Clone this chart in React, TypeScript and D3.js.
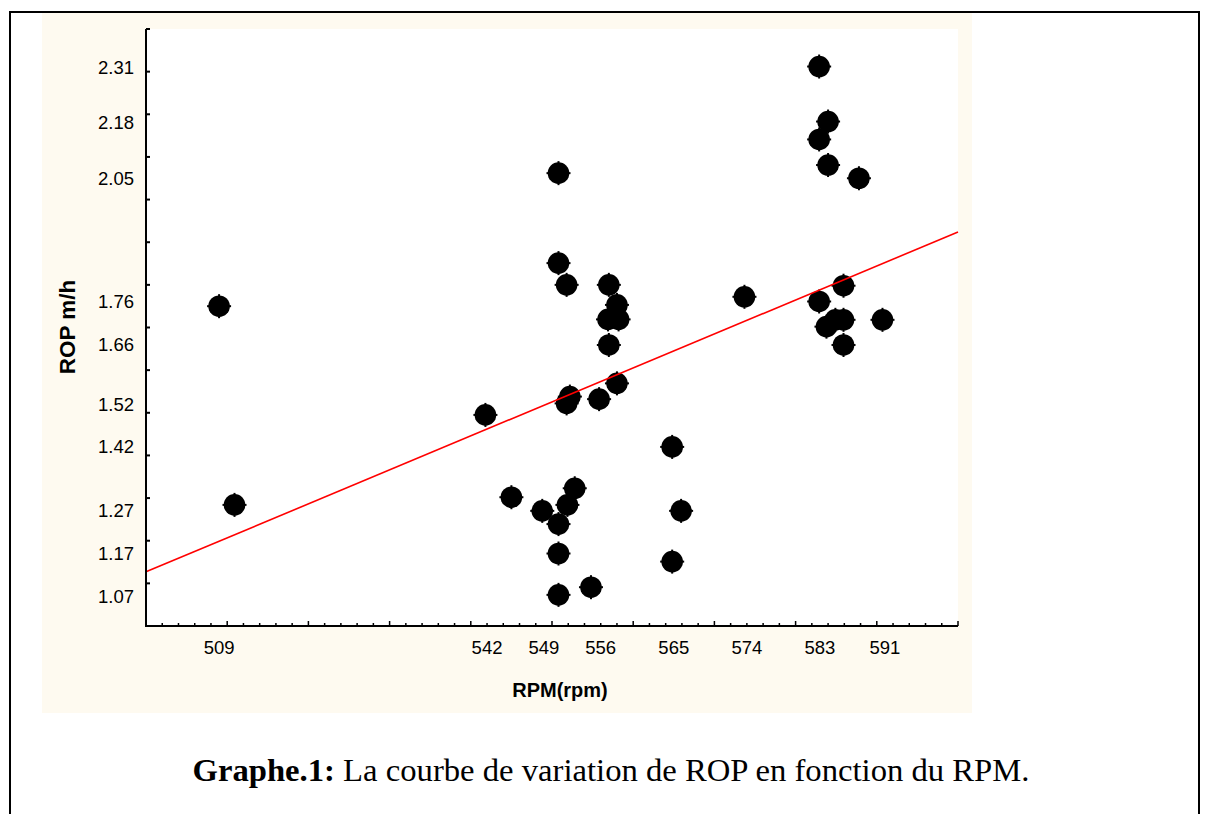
import React from "react";
import * as d3 from "d3";

// RPM (rpm) of each measured point
const rpm = [
  509.0, 510.9, 541.8, 545.0, 548.8, 550.8, 551.9, 552.8, 550.8, 550.8,
  554.8, 550.8, 550.8, 551.8, 551.8, 552.2, 555.8, 557.0, 558.0, 556.9,
  558.2, 557.0, 558.0, 564.8, 565.9, 564.8, 573.7, 582.9, 582.9, 584.0,
  584.0, 587.8, 582.9, 585.9, 583.8, 584.9, 585.9, 585.9, 590.7,
];
// ROP (m/h) of each measured point
const rop = [
  1.750, 1.284, 1.495, 1.302, 1.270, 1.239, 1.284, 1.323, 1.170, 1.073,
  1.091, 2.062, 1.851, 1.800, 1.522, 1.538, 1.532, 1.800, 1.753, 1.719,
  1.719, 1.659, 1.569, 1.420, 1.270, 1.151, 1.772, 2.312, 2.141, 2.183,
  2.081, 2.050, 1.761, 1.798, 1.702, 1.718, 1.718, 1.659, 1.718,
];
// linear fit end points
const fitX = [500, 600];
const fitY = [1.127, 1.924];

const xTickLabels = [509, 542, 549, 556, 565, 574, 583, 591];
const yTickLabels = ["2.31", "2.18", "2.05", "1.76", "1.66", "1.52", "1.42", "1.27", "1.17", "1.07"];

const xTitle = "RPM(rpm)";
const yTitle = "ROP m/h";
const captionBold = "Graphe.1:";
const captionRest = " La courbe de variation de ROP en fonction du RPM.";

export default function App() {
  const left = 146, right = 958, top = 29, bottom = 626;
  const x = d3.scaleLinear().domain([500, 600]).range([left, right]);
  const y = d3.scaleLinear().domain([1.0, 2.4]).range([bottom, top]);

  const majorX = d3.range(500, 601, 10);
  const minorX = d3.range(500, 601, 2).filter((v) => v % 10 !== 0);
  const yTicks = d3.range(0, 15).map((i) => 1.0 + i * 0.1);

  const line = d3
    .line<number>()
    .x((_, i) => x(fitX[i]))
    .y((d) => y(d));

  const pts = rpm.map((r, i) => ({ r, v: rop[i] }));
  const font = "'Liberation Sans', Arial, sans-serif";

  return (
    <svg
      width={1205}
      height={814}
      style={{ position: "absolute", left: 0, top: 0, background: "#fff" }}
    >
      <rect x={0} y={0} width={1205} height={814} fill="#fff" />
      {/* outer frame */}
      <path d="M10,820 V12 H1199 V820" fill="none" stroke="#000" strokeWidth={2} />
      {/* cream panel */}
      <rect x={42} y={13} width={930} height={700} fill="#FEFAF0" />
      {/* plot area */}
      <rect x={left} y={top} width={right - left} height={bottom - top} fill="#fff" />

      {/* points */}
      <g fill="#000">
        {pts.map((p, i) => (
          <g key={i} transform={`translate(${x(p.r)},${y(p.v)})`}>
            <circle r={10.8} />
            <rect x={-1} y={-12} width={2} height={24} />
            <rect x={-12} y={-1} width={24} height={2} />
          </g>
        ))}
      </g>

      {/* fit line */}
      <path d={line(fitY) || ""} fill="none" stroke="#FF0000" strokeWidth={1.6} />

      {/* axes */}
      <line x1={left} x2={left} y1={top} y2={bottom + 1} stroke="#000" strokeWidth={2} />
      <line x1={left - 1} x2={right} y1={bottom} y2={bottom} stroke="#000" strokeWidth={2} />
      {yTicks.map((t, i) => (
        <line key={"yt" + i} x1={left} x2={left + 4} y1={y(t)} y2={y(t)} stroke="#000" strokeWidth={2} />
      ))}
      {majorX.map((t) => (
        <line key={"xm" + t} x1={x(t)} x2={x(t)} y1={bottom} y2={bottom - 5} stroke="#000" strokeWidth={1.5} />
      ))}
      {minorX.map((t) => (
        <line key={"xn" + t} x1={x(t)} x2={x(t)} y1={bottom} y2={bottom - 3} stroke="#000" strokeWidth={1.5} />
      ))}

      {/* tick labels */}
      <g fontFamily={font} fontSize={18.5} fill="#000">
        {yTickLabels.map((t) => (
          <text key={t} x={134} y={y(+t)} textAnchor="end" dominantBaseline="central">
            {t}
          </text>
        ))}
        {xTickLabels.map((t) => (
          <text key={t} x={x(t)} y={654} textAnchor="middle">
            {t}
          </text>
        ))}
      </g>

      {/* axis titles */}
      <text x={560} y={697} textAnchor="middle" fontFamily={font} fontWeight="bold" fontSize={20}>
        {xTitle}
      </text>
      <text
        transform="translate(75,327) rotate(-90)"
        textAnchor="middle"
        fontFamily={font}
        fontWeight="bold"
        fontSize={22.5}
      >
        {yTitle}
      </text>

      {/* caption */}
      <text
        x={611}
        y={781}
        textAnchor="middle"
        fontFamily="'Liberation Serif', 'Times New Roman', serif"
        fontSize={31}
        textLength={837}
        lengthAdjust="spacingAndGlyphs"
      >
        <tspan fontWeight="bold">{captionBold}</tspan>
        <tspan>{captionRest}</tspan>
      </text>
    </svg>
  );
}
